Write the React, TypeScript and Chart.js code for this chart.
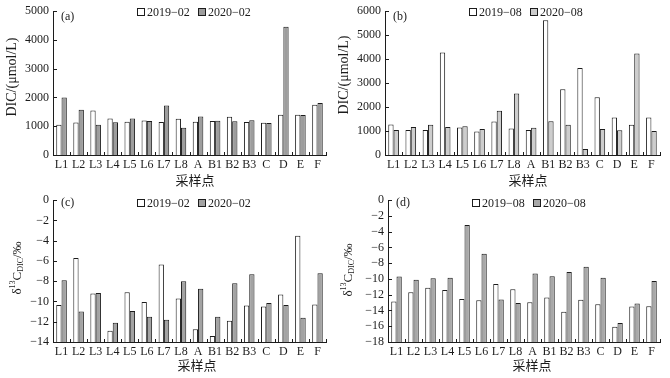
import React, { useEffect, useRef } from 'react';
import { Chart, registerables } from 'chart.js';

Chart.register(...registerables);

const categories = ['L1', 'L2', 'L3', 'L4', 'L5', 'L6', 'L7', 'L8', 'A', 'B1', 'B2', 'B3', 'C', 'D', 'E', 'F'];

const febLabels = ['2019−02', '2020−02'];
const augLabels = ['2019−08', '2020−08'];

const dicFeb2019 = [1050, 1130, 1550, 1270, 1160, 1200, 1150, 1260, 1160, 1180, 1330, 1150, 1120, 1400, 1400, 1750];
const dicFeb2020 = [2000, 1570, 1050, 1140, 1270, 1180, 1720, 950, 1340, 1190, 1170, 1210, 1110, 4460, 1390, 1810];
const dicAug2019 = [1270, 1040, 1040, 4280, 1150, 980, 1400, 1110, 1040, 5620, 2740, 3630, 2410, 1560, 1260, 1560];
const dicAug2020 = [1040, 1170, 1260, 1170, 1200, 1080, 1850, 2570, 1140, 1410, 1260, 250, 1080, 1030, 4230, 1000];

const d13cFeb2019 = [-10.35, -5.7, -9.2, -12.9, -9.1, -10.05, -6.35, -9.7, -12.75, -13.4, -11.9, -10.4, -10.5, -9.3, -3.5, -10.3];
const d13cFeb2020 = [-7.9, -11.0, -9.15, -12.1, -10.95, -11.5, -11.8, -8.0, -8.75, -11.5, -8.2, -7.3, -10.15, -10.35, -11.6, -7.2];
const d13cAug2019 = [-12.85, -11.7, -11.1, -11.4, -12.55, -12.7, -10.65, -11.3, -12.95, -12.35, -14.15, -12.65, -13.2, -16.05, -13.5, -13.45];
const d13cAug2020 = [-9.7, -10.1, -9.9, -9.85, -3.15, -6.8, -12.6, -13.05, -9.3, -9.65, -9.1, -8.45, -9.85, -15.6, -13.1, -10.25];

const dicFebTicks = [0, 1000, 2000, 3000, 4000, 5000];
const dicAugTicks = [0, 1000, 2000, 3000, 4000, 5000, 6000];
const d13cFebTicks = [0, -2, -4, -6, -8, -10, -12, -14];
const d13cAugTicks = [0, -2, -4, -6, -8, -10, -12, -14, -16, -18];

const SERIF = "'Liberation Serif', 'Times New Roman', serif";
const CJK = "'Liberation Serif', 'Noto Sans CJK SC', serif";
const INK = '#1c1c1c';

const W = 335;
const H = 189;

type PanelProps = {
  left: number;
  top: number;
  area: { l: number; t: number; r: number; b: number };
  tag: string;
  legend: string[];
  series: number[][];
  gray: string;
  ticks: number[];
  yKind: 'dic' | 'd13c';
  legendY: number;
  tagY: number;
  yTitlePos: { x: number; y: number };
  xTitlePos: { x: number; y: number };
};

const fmt = (v: number) => (v < 0 ? '−' + Math.abs(v) : String(v));

function Panel(p: PanelProps) {
  const ref = useRef<HTMLCanvasElement | null>(null);
  useEffect(() => {
    if (!ref.current) return;
    const min = Math.min(...p.ticks);
    const max = Math.max(...p.ticks);
    const base = min < 0 ? min : 0;

    const overlay = {
      id: 'overlay',
      afterDraw(chart: any) {
        const { ctx, chartArea: a, scales } = chart;
        const ys = scales.y;
        const xs = scales.x;
        ctx.save();
        ctx.strokeStyle = INK;
        ctx.lineWidth = 1;
        // inward y ticks
        p.ticks.forEach((v) => {
          const py = Math.round(ys.getPixelForValue(v)) + 0.5;
          ctx.beginPath();
          ctx.moveTo(a.left, py);
          ctx.lineTo(a.left + 4, py);
          ctx.stroke();
        });
        // x ticks at category boundaries
        for (let i = 0; i < categories.length; i++) {
          const px = Math.round(xs.getPixelForValue(i + 0.5)) + 0.5;
          ctx.beginPath();
          ctx.moveTo(px, a.bottom);
          ctx.lineTo(px, a.bottom - 3);
          ctx.stroke();
        }
        // legend
        ctx.fillStyle = INK;
        ctx.textBaseline = 'middle';
        ctx.textAlign = 'left';
        ctx.font = `12px ${SERIF}`;
        const lx = a.left + 84;
        const ly = p.legendY;
        const items = [
          { x: lx, fill: '#ffffff' },
          { x: lx + 61, fill: p.gray },
        ];
        items.forEach((it, i) => {
          ctx.fillStyle = it.fill;
          ctx.fillRect(it.x + 0.5, ly - 3.5, 7, 7);
          ctx.strokeRect(it.x + 0.5, ly - 3.5, 7, 7);
          ctx.fillStyle = INK;
          ctx.fillText(p.legend[i], it.x + 10, ly + 0.5);
        });
        // panel tag
        ctx.font = `12px ${SERIF}`;
        ctx.fillText(p.tag, a.left + 8, p.tagY);
        // x title
        ctx.font = `13px ${CJK}`;
        ctx.textAlign = 'center';
        ctx.fillText('采样点', p.xTitlePos.x, p.xTitlePos.y);
        // y title
        ctx.translate(p.yTitlePos.x, p.yTitlePos.y);
        ctx.rotate(-Math.PI / 2);
        if (p.yKind === 'dic') {
          ctx.font = `14px ${SERIF}`;
          ctx.textAlign = 'center';
          ctx.fillText('DIC/(μmol/L)', 0, 0);
        } else {
          const parts = [
            { t: 'δ', s: 13, dy: 0 },
            { t: '13', s: 8, dy: -5 },
            { t: 'C', s: 13, dy: 0 },
            { t: 'DIC', s: 8, dy: 3 },
            { t: '/‰', s: 13, dy: 0 },
          ];
          let total = 0;
          const widths = parts.map((q) => {
            ctx.font = `${q.s}px ${SERIF}`;
            const w = ctx.measureText(q.t).width;
            total += w;
            return w;
          });
          let x = -total / 2;
          ctx.textAlign = 'left';
          parts.forEach((q, i) => {
            ctx.font = `${q.s}px ${SERIF}`;
            ctx.fillText(q.t, x, q.dy);
            x += widths[i];
          });
        }
        ctx.restore();
      },
    };

    const chart = new Chart(ref.current, {
      type: 'bar',
      data: {
        labels: categories,
        datasets: [
          {
            label: p.legend[0],
            data: p.series[0],
            backgroundColor: '#ffffff',
            borderColor: INK,
            borderWidth: 1,
            base,
          } as any,
          {
            label: p.legend[1],
            data: p.series[1],
            backgroundColor: p.gray,
            borderColor: INK,
            borderWidth: 1,
            base,
          } as any,
        ],
      },
      options: {
        animation: false,
        responsive: false,
        devicePixelRatio: 1,
        layout: { padding: { left: 0, top: p.area.t, right: W - p.area.r, bottom: 0 } },
        datasets: { bar: { categoryPercentage: 0.62, barPercentage: 1.0 } },
        plugins: { legend: { display: false }, tooltip: { enabled: false }, title: { display: false } },
        scales: {
          x: {
            type: 'category',
            offset: true,
            grid: { display: false, drawTicks: false },
            border: { display: true, color: INK, width: 1 },
            ticks: { font: { family: SERIF, size: 12 }, color: INK, padding: 3, maxRotation: 0, autoSkip: false },
            afterFit: (s: any) => {
              s.height = H - p.area.b;
            },
          },
          y: {
            type: 'linear',
            min,
            max,
            grid: { display: false, drawTicks: false },
            border: { display: true, color: INK, width: 1 },
            ticks: {
              font: { family: SERIF, size: 12 },
              color: INK,
              padding: 4,
              autoSkip: false,
              callback: (v: any) => fmt(Number(v)),
            },
            afterBuildTicks: (s: any) => {
              s.ticks = p.ticks.slice().sort((a, b) => a - b).map((v) => ({ value: v }));
            },
            afterFit: (s: any) => {
              s.width = p.area.l;
            },
          },
        },
      } as any,
      plugins: [overlay],
    });
    return () => chart.destroy();
  }, []);
  return (
    <canvas
      ref={ref}
      width={W}
      height={H}
      style={{ position: 'absolute', left: p.left, top: p.top, width: W, height: H }}
    />
  );
}

export default function App() {
  return (
    <div style={{ position: 'absolute', left: 0, top: 0, width: 670, height: 378, background: '#fff' }}>
      <Panel
        left={0}
        top={0}
        area={{ l: 53, t: 10, r: 326, b: 155 }}
        tag="(a)"
        legend={febLabels}
        series={[dicFeb2019, dicFeb2020]}
        gray="#9d9d9d"
        ticks={dicFebTicks}
        yKind="dic"
        legendY={12}
        tagY={17}
        yTitlePos={{ x: 12, y: 77 }}
        xTitlePos={{ x: 195, y: 182 }}
      />
      <Panel
        left={335}
        top={0}
        area={{ l: 50, t: 11, r: 325, b: 155 }}
        tag="(b)"
        legend={augLabels}
        series={[dicAug2019, dicAug2020]}
        gray="#cdcdcd"
        ticks={dicAugTicks}
        yKind="dic"
        legendY={12}
        tagY={17}
        yTitlePos={{ x: 9, y: 75 }}
        xTitlePos={{ x: 193, y: 182 }}
      />
      <Panel
        left={0}
        top={189}
        area={{ l: 53, t: 9, r: 326, b: 153 }}
        tag="(c)"
        legend={febLabels}
        series={[d13cFeb2019, d13cFeb2020]}
        gray="#a3a3a3"
        ticks={d13cFebTicks}
        yKind="d13c"
        legendY={14}
        tagY={14}
        yTitlePos={{ x: 18, y: 79 }}
        xTitlePos={{ x: 197, y: 178 }}
      />
      <Panel
        left={335}
        top={189}
        area={{ l: 53, t: 9, r: 325, b: 153 }}
        tag="(d)"
        legend={augLabels}
        series={[d13cAug2019, d13cAug2020]}
        gray="#a8a8a8"
        ticks={d13cAugTicks}
        yKind="d13c"
        legendY={14}
        tagY={14}
        yTitlePos={{ x: 14, y: 81 }}
        xTitlePos={{ x: 197, y: 178 }}
      />
    </div>
  );
}
